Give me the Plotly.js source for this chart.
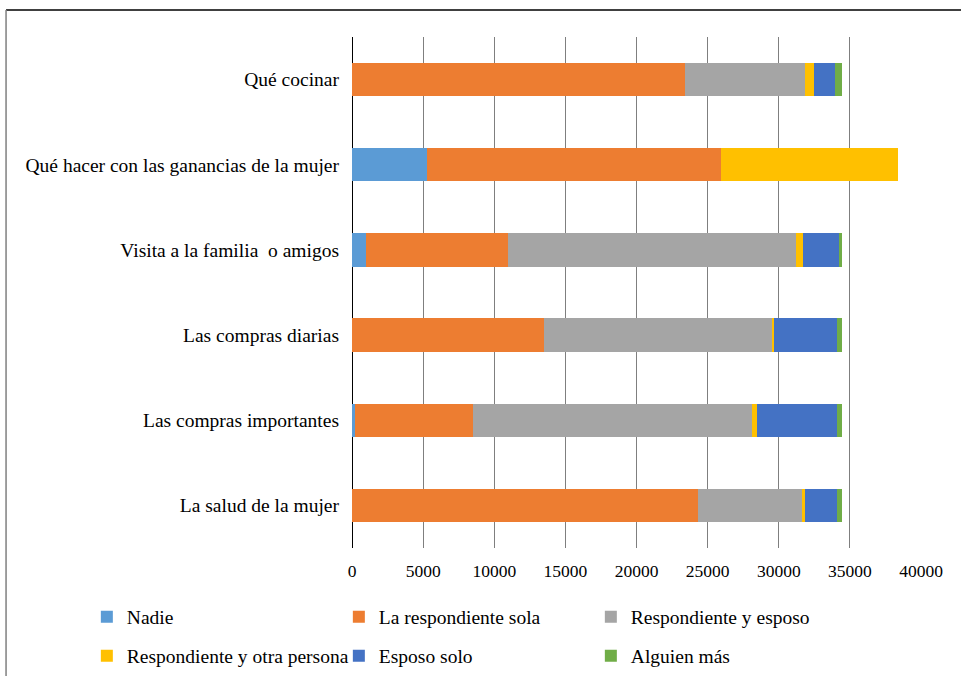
<!DOCTYPE html>
<html>
<head>
<meta charset="utf-8">
<script src="https://cdn.plot.ly/plotly-3.0.1.min.js"></script>
<style>html,body{margin:0;padding:0;background:#fff;}#chart{width:961px;height:676px;}</style>
</head>
<body>
<div id="chart"></div>
<script>
// Categories (bottom to top, as the axis draws them)
const categories = [
  "La salud de la mujer",
  "Las compras importantes",
  "Las compras diarias",
  "Visita a la familia  o amigos",
  "Qué hacer con las ganancias de la mujer",
  "Qué cocinar"
];
const nadie        = [0,     210,   0,     960,   5250,  0];
const sola         = [24300, 8280,  13530, 10000, 20700, 23400];
const esposo       = [7390,  19630, 15980, 20250, 0,     8450];
const otraPersona  = [140,   330,   190,   490,   12400, 600];
const esposoSolo   = [2250,  5630,  4390,  2600,  0,     1530];
const alguienMas   = [350,   350,   350,   140,   0,     490];
const xTicks = [0, 5000, 10000, 15000, 20000, 25000, 30000, 35000, 40000];

const seriesNames = ["Nadie", "La respondiente sola", "Respondiente y esposo",
                     "Respondiente y otra persona", "Esposo solo", "Alguien más"];
const seriesValues = [nadie, sola, esposo, otraPersona, esposoSolo, alguienMas];
const colors = ["#5B9BD5", "#ED7D31", "#A5A5A5", "#FFC000", "#4472C4", "#70AD47"];
const legendIds = ["legend", "legend", "legend", "legend2", "legend2", "legend2"];

const FONT_FAMILY = "Liberation Serif, Times New Roman, serif";

const traces = seriesNames.map((n, i) => ({
  type: "bar",
  orientation: "h",
  name: n,
  y: categories,
  x: seriesValues[i],
  marker: {color: colors[i], line: {width: 0}},
  legend: legendIds[i],
  hoverinfo: "x+name"
}));

const legendBase = {
  orientation: "h",
  traceorder: "normal",
  x: -0.466, xanchor: "left",
  yanchor: "middle",
  entrywidth: 207, entrywidthmode: "pixels",
  font: {family: FONT_FAMILY, size: 19.5, color: "#000"},
  bgcolor: "rgba(0,0,0,0)",
  itemclick: false, itemdoubleclick: false
};

const layout = {
  width: 961, height: 676,
  margin: {l: 352, r: 40, t: 37, b: 128, autoexpand: false},
  paper_bgcolor: "#fff", plot_bgcolor: "#fff",
  barmode: "stack",
  bargap: 0.61,
  font: {family: FONT_FAMILY, color: "#000"},
  xaxis: {
    range: [0, 40000],
    tickvals: xTicks,
    ticktext: xTicks.map(String),
    showgrid: true, gridcolor: "#7f7f7f", gridwidth: 1,
    zeroline: true, zerolinecolor: "#000", zerolinewidth: 1,
    showline: false, ticks: "",
    ticklabelstandoff: 10,
    tickfont: {family: FONT_FAMILY, size: 17.5, color: "#000"},
    fixedrange: true
  },
  yaxis: {
    type: "category",
    categoryorder: "array", categoryarray: categories,
    showgrid: false, zeroline: false, showline: false, ticks: "",
    ticklabelstandoff: 12,
    tickfont: {family: FONT_FAMILY, size: 19.5, color: "#000"},
    fixedrange: true
  },
  legend: Object.assign({}, legendBase, {y: -0.135}),
  legend2: Object.assign({}, legendBase, {y: -0.2114}),
  shapes: [
    {type: "line", xref: "paper", yref: "paper", x0: -0.608, x1: 1.2, y0: 1.0528, y1: 1.0528,
     line: {color: "#000", width: 1.5}},
    {type: "line", xref: "paper", yref: "paper", x0: -0.608, x1: -0.608, y0: 1.0528, y1: -0.3,
     line: {color: "#7f7f7f", width: 1.5}}
  ],
  showlegend: true
};

Plotly.newPlot("chart", traces, layout, {displayModeBar: false});
</script>
</body>
</html>
